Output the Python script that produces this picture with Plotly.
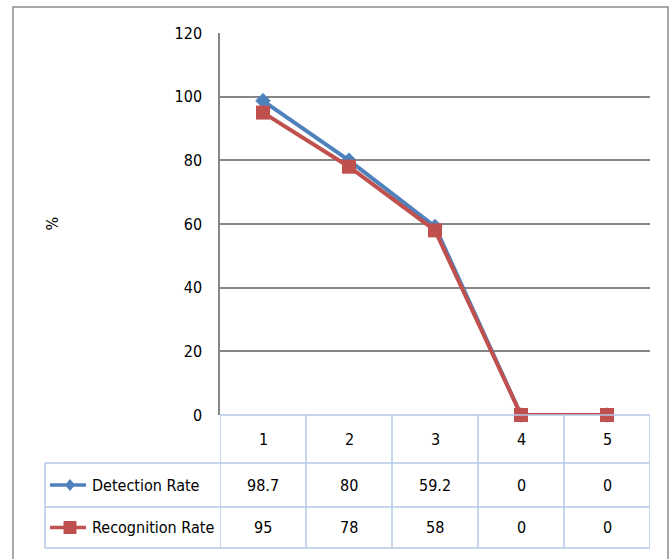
import plotly.graph_objects as go

# Data
categories = [1, 2, 3, 4, 5]
detection_rate = [98.7, 80, 59.2, 0, 0]
recognition_rate = [95, 78, 58, 0, 0]
series_names = ["Detection Rate", "Recognition Rate"]
y_ticks = [0, 20, 40, 60, 80, 100, 120]

# Page and plot-area geometry (pixels)
W, H = 671, 559
PL, PR, PT, PB = 220, 650, 33, 415

BLUE = "#4f81bd"
RED = "#c0504d"
GRID = "#868686"
TABLE = "#b4c9e6"
FONT = "DejaVu Sans Condensed, Lato, sans-serif"
FSIZE = 16
TXT = "#000000"


def fx(px):
    return (px - PL) / (PR - PL)


def fy(py):
    return (PB - py) / (PB - PT)


fig = go.Figure()

fig.add_trace(go.Scatter(
    x=categories, y=detection_rate, mode="lines+markers", name=series_names[0],
    line=dict(color=BLUE, width=4),
    marker=dict(symbol="diamond", size=12, color=BLUE),
    cliponaxis=False, showlegend=False,
))
fig.add_trace(go.Scatter(
    x=categories, y=recognition_rate, mode="lines+markers", name=series_names[1],
    line=dict(color=RED, width=4),
    marker=dict(symbol="square", size=14, color=RED),
    cliponaxis=False, showlegend=False,
))

shapes = []
annotations = []

# Outer chart border
shapes.append(dict(type="rect", xref="paper", yref="paper",
                   x0=fx(13), x1=fx(668), y0=fy(575), y1=fy(7),
                   line=dict(color="#8c8c8c", width=1.5), layer="below"))

# Data table rows (pixel y boundaries)
row_top, row_head, row_mid, row_bot = 415, 463, 507, 548
tbl_left = 45

def hline(y, x0p, x1p):
    shapes.append(dict(type="line", xref="paper", yref="paper",
                       x0=fx(x0p), x1=fx(x1p), y0=fy(y), y1=fy(y),
                       line=dict(color=TABLE, width=1.5), layer="above"))

hline(row_top, PL, PR)
for y in (row_head, row_mid, row_bot):
    hline(y, tbl_left, PR)

# Column separators follow the category axis
for b in [c - 0.5 for c in categories] + [categories[-1] + 0.5]:
    shapes.append(dict(type="line", xref="x", yref="paper",
                       x0=b, x1=b, y0=fy(row_top), y1=fy(row_bot),
                       line=dict(color=TABLE, width=1.5), layer="above"))
shapes.append(dict(type="line", xref="paper", yref="paper",
                   x0=fx(tbl_left), x1=fx(tbl_left), y0=fy(row_head), y1=fy(row_bot),
                   line=dict(color=TABLE, width=1.5), layer="above"))

txt_font = dict(family=FONT, size=FSIZE, color=TXT)

# Header row: category labels
for c in categories:
    annotations.append(dict(x=c, y=fy((row_top + row_head) / 2), xref="x", yref="paper",
                            text=str(c), showarrow=False, font=txt_font,
                            xanchor="center", yanchor="middle"))

# Value rows with legend keys
rows = [
    (series_names[0], detection_rate, BLUE, "diamond", (row_head + row_mid) / 2),
    (series_names[1], recognition_rate, RED, "square", (row_mid + row_bot) / 2),
]
for name, vals, color, sym, cy in rows:
    for c, v in zip(categories, vals):
        annotations.append(dict(x=c, y=fy(cy), xref="x", yref="paper",
                                text=f"{v:g}", showarrow=False, font=txt_font,
                                xanchor="center", yanchor="middle"))
    annotations.append(dict(x=fx(90), y=fy(cy), xref="paper", yref="paper",
                            text=name, showarrow=False, font=txt_font,
                            xanchor="left", yanchor="middle"))
    # legend key line
    shapes.append(dict(type="line", xref="paper", yref="paper",
                       x0=fx(50), x1=fx(86), y0=fy(cy), y1=fy(cy),
                       line=dict(color=color, width=3.5), layer="above"))
    # legend key marker
    kx, r = 70, (5 if sym == "diamond" else 6.5)
    if sym == "square":
        shapes.append(dict(type="rect", xref="paper", yref="paper",
                           x0=fx(kx - r), x1=fx(kx + r), y0=fy(cy + r), y1=fy(cy - r),
                           fillcolor=color, line=dict(width=0), layer="above"))
    else:
        path = "M {} {} L {} {} L {} {} L {} {} Z".format(
            fx(kx - r), fy(cy), fx(kx), fy(cy - r - 1), fx(kx + r), fy(cy), fx(kx), fy(cy + r + 1))
        shapes.append(dict(type="path", xref="paper", yref="paper", path=path,
                           fillcolor=color, line=dict(width=0), layer="above"))

# Vertical axis title
annotations.append(dict(x=fx(40), y=fy((PT + PB) / 2), xref="paper", yref="paper",
                        text="%", textangle=-90, showarrow=False,
                        font=dict(family=FONT, size=FSIZE, color=TXT)))

fig.update_layout(
    width=W, height=H,
    margin=dict(l=PL, r=W - PR, t=PT, b=H - PB, pad=0),
    paper_bgcolor="white", plot_bgcolor="white",
    xaxis=dict(range=[0.5, 5.5], showticklabels=False, showgrid=False,
               zeroline=False, showline=False, fixedrange=True),
    yaxis=dict(range=[0, 120], tickvals=y_ticks, showgrid=True,
               gridcolor=GRID, gridwidth=1.5, zeroline=False,
               showline=True, linecolor=GRID, linewidth=1.5,
               ticks="", ticklabelstandoff=13,
               tickfont=dict(family=FONT, size=FSIZE, color=TXT)),
    shapes=shapes, annotations=annotations,
)

fig.write_html("out.html")
